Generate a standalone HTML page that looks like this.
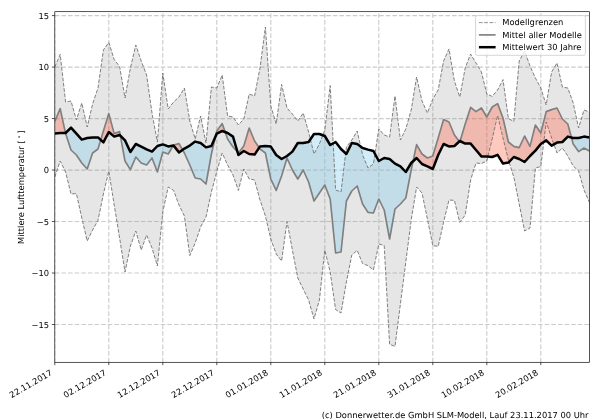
<!DOCTYPE html>
<html lang="de"><head><meta charset="utf-8"><title>Mittlere Lufttemperatur</title>
<style>html,body{margin:0;padding:0;background:#fff;overflow:hidden}svg{display:block;opacity:.999;will-change:transform}text{text-rendering:geometricPrecision}text{font-family:"DejaVu Sans","Liberation Sans",sans-serif;font-size:8.33px;fill:#000}</style></head><body>
<svg width="600" height="420" viewBox="0 0 600 420">
<rect width="600" height="420" fill="#fff"/>
<defs><clipPath id="ax"><rect x="54.8" y="11.7" width="534.8" height="350.6"/></clipPath></defs>
<g clip-path="url(#ax)">
<path d="M54.8 362.3 V11.7 M108.8 362.3 V11.7 M162.8 362.3 V11.7 M216.8 362.3 V11.7 M270.8 362.3 V11.7 M324.8 362.3 V11.7 M378.8 362.3 V11.7 M432.8 362.3 V11.7 M486.8 362.3 V11.7 M540.8 362.3 V11.7 M54.8 15.59 H589.6 M54.8 67.08 H589.6 M54.8 118.57 H589.6 M54.8 170.05 H589.6 M54.8 221.54 H589.6 M54.8 273.02 H589.6 M54.8 324.5 H589.6" fill="none" stroke="#cccccc" stroke-width="1.15" stroke-dasharray="4.62 2"/>
<path d="M54.8 67 L60.2 54.4 L65.6 102 L71 101 L76.4 120 L81.8 103 L87.2 127 L92.6 104 L98 88 L103.4 50 L108.8 42.4 L114.2 59.6 L119.6 66.4 L125 98 L130.4 68 L135.8 45 L141.2 61 L146.6 75 L152 113 L157.4 142 L162.8 73 L168.2 109 L173.6 102 L179 97 L184.4 88 L189.8 121 L195.2 139 L200.6 116 L206 143 L211.4 87 L216.8 88 L222.2 75 L227.6 116 L233 117 L238.4 125 L243.8 119 L249.2 94 L254.6 96 L260 68 L265.4 27 L270.8 106 L276.2 124 L281.6 84.4 L287 108 L292.4 114 L297.8 121 L303.2 113 L308.6 132 L314 154 L319.4 144 L324.8 130 L330.2 85.6 L335.6 190 L341 192 L346.4 147 L351.8 140 L357.2 131 L362.6 155 L368 168 L373.4 164 L378.8 129 L384.2 135 L389.6 137 L395 96 L400.4 140 L405.8 129 L411.2 110 L416.6 77 L422 101 L427.4 113 L432.8 99 L438.2 90 L443.6 61 L449 49 L454.4 81 L459.8 97 L465.2 68 L470.6 54 L476 63 L481.4 72 L486.8 94 L492.2 96.4 L497.6 90 L503 79.6 L508.4 118.5 L513.8 121.5 L519.2 61 L524.6 51 L530 66 L535.4 78 L540.8 88 L546.2 105 L551.6 72 L557 63 L562.4 87 L567.8 88 L573.2 103 L578.6 128 L584 110 L589.4 112 L589.4 202.4 L584 190 L578.6 171 L573.2 166 L567.8 156 L562.4 148 L557 153 L551.6 138 L546.2 122 L540.8 166.5 L535.4 168 L530 228 L524.6 231 L519.2 204 L513.8 177 L508.4 160 L503 138 L497.6 115.5 L492.2 139 L486.8 161 L481.4 163.6 L476 163 L470.6 180 L465.2 215 L459.8 222.4 L454.4 200.4 L449 200 L443.6 222 L438.2 246.4 L432.8 245.6 L427.4 219 L422 193 L416.6 187 L411.2 220 L405.8 262 L400.4 304 L395 346.4 L389.6 344.4 L384.2 245.6 L378.8 244 L373.4 270 L368 265.6 L362.6 263.6 L357.2 250.4 L351.8 255 L346.4 282 L341 313 L335.6 309.6 L330.2 272 L324.8 250 L319.4 300 L314 319 L308.6 300 L303.2 289 L297.8 278 L292.4 250 L287 221.6 L281.6 261 L276.2 254 L270.8 239 L265.4 216 L260 200 L254.6 180 L249.2 179 L243.8 169 L238.4 190.4 L233 175 L227.6 165 L222.2 153 L216.8 171.5 L211.4 192 L206 217 L200.6 227 L195.2 243 L189.8 255.6 L184.4 216 L179 205 L173.6 190.4 L168.2 187 L162.8 212 L157.4 266 L152 248 L146.6 235 L141.2 250 L135.8 231 L130.4 246 L125 272 L119.6 238 L114.2 205 L108.8 171 L103.4 194 L98 220.4 L92.6 230 L87.2 241 L81.8 218 L76.4 193.6 L71 194 L65.6 172 L60.2 161 L54.8 177Z" fill="rgb(128,128,128)" fill-opacity="0.2"/>
<path d="M54.8 133.6 L60.2 133 L65.47 133 L65.6 133.6 L71 150 L76.4 155 L81.8 163 L87.2 169 L92.6 153 L98 149 L100.72 139.92 L103.4 142.4 L108.8 132 L114.2 136.6 L119.6 135 L120.37 135.77 L125 161 L130.4 169.6 L135.8 157 L141.2 163 L146.6 165 L152 158 L157.4 172 L162.8 152 L168.2 154 L173.2 145.66 L173.6 145.6 L179 152.4 L182.6 149.87 L184.4 153 L189.8 165 L195.2 178 L200.6 179 L206 184 L211.4 154 L215.48 136.64 L216.8 133.6 L222.2 131 L225.18 132.1 L227.6 139 L233 147 L237.53 152.03 L238.4 155 L243.8 151 L249.2 154 L254.6 154.6 L259.13 147.72 L260 149 L265.4 153 L270.8 179 L276.2 190.4 L281.6 176 L287 158 L292.4 170 L297.8 179 L303.2 170 L308.6 182 L314 201 L319.4 193 L324.8 185 L330.2 199 L335.6 253 L341 252 L346.4 201 L351.8 191 L357.2 186 L362.6 204 L368 212.4 L373.4 213 L378.8 199 L384.2 210 L389.6 239 L395 209 L400.4 204 L405.8 198 L411.2 170 L413.05 161.28 L416.6 158 L422 164 L427.4 166.4 L432.8 169 L438.2 155 L443.6 144 L449 146.4 L454.4 146 L459.35 141.42 L459.8 142 L460.06 141.13 L465.2 143.6 L470.6 143.6 L476 150 L481.4 156.4 L486.8 156.6 L492.2 157 L497.6 154.8 L503 163.6 L508.4 162.6 L513.8 157 L519.2 159 L524.6 162 L530 156 L535.4 150.6 L540.8 144 L546.2 140.4 L551.6 145.6 L557 142.6 L562.4 142 L567.8 136.6 L571.46 137.55 L573.2 144 L578.6 151.6 L584 148 L589.4 151 L589.4 137.4 L584 136.6 L578.6 138 L573.2 138 L571.46 137.55 L567.8 136.6 L562.4 142 L557 142.6 L551.6 145.6 L546.2 140.4 L540.8 144 L535.4 150.6 L530 156 L524.6 162 L519.2 159 L513.8 157 L508.4 162.6 L503 163.6 L497.6 154.8 L492.2 157 L486.8 156.6 L481.4 156.4 L476 150 L470.6 143.6 L465.2 143.6 L460.06 141.13 L459.8 141 L459.35 141.42 L454.4 146 L449 146.4 L443.6 144 L438.2 155 L432.8 169 L427.4 166.4 L422 164 L416.6 158 L413.05 161.28 L411.2 163 L405.8 172 L400.4 166.4 L395 163.6 L389.6 159 L384.2 158 L378.8 161 L373.4 151 L368 149.6 L362.6 148 L357.2 144 L351.8 143 L346.4 154 L341 149 L335.6 142 L330.2 145 L324.8 136 L319.4 134 L314 134 L308.6 142 L303.2 143 L297.8 143 L292.4 151.6 L287 156 L281.6 159 L276.2 155 L270.8 146.6 L265.4 146 L260 146.4 L259.13 147.72 L254.6 154.6 L249.2 154 L243.8 151 L238.4 155 L237.53 152.03 L233 136.6 L227.6 133 L225.18 132.1 L222.2 131 L216.8 133.6 L215.48 136.64 L211.4 146 L206 147.4 L200.6 143 L195.2 141.6 L189.8 145.6 L184.4 148.6 L182.6 149.87 L179 152.4 L173.6 145.6 L173.2 145.66 L168.2 146.4 L162.8 144.4 L157.4 146 L152 151.6 L146.6 149.4 L141.2 146.6 L135.8 144 L130.4 152 L125 140.4 L120.37 135.77 L119.6 135 L114.2 136.6 L108.8 132 L103.4 142.4 L100.72 139.92 L98 137.4 L92.6 137.4 L87.2 138 L81.8 139.6 L76.4 133.6 L71 127.6 L65.6 133 L65.47 133 L60.2 133 L54.8 133.6Z" fill="rgb(135,206,236)" fill-opacity="0.37"/>
<path d="M54.8 121.5 L60.2 108.6 L65.47 133 L65.6 133 L71 127.6 L76.4 133.6 L81.8 139.6 L87.2 138 L92.6 137.4 L98 137.4 L100.72 139.92 L103.4 131 L108.8 113.6 L114.2 133.6 L119.6 131.6 L120.37 135.77 L125 140.4 L130.4 152 L135.8 144 L141.2 146.6 L146.6 149.4 L152 151.6 L157.4 146 L162.8 144.4 L168.2 146.4 L173.2 145.66 L173.6 145 L179 143.6 L182.6 149.87 L184.4 148.6 L189.8 145.6 L195.2 141.6 L200.6 143 L206 147.4 L211.4 146 L215.48 136.64 L216.8 131 L222.2 123.6 L225.18 132.1 L227.6 133 L233 136.6 L237.53 152.03 L238.4 153 L243.8 146 L249.2 128 L254.6 141 L259.13 147.72 L260 146.4 L265.4 146 L270.8 146.6 L276.2 155 L281.6 159 L287 156 L292.4 151.6 L297.8 143 L303.2 143 L308.6 142 L314 134 L319.4 134 L324.8 136 L330.2 145 L335.6 142 L341 149 L346.4 154 L351.8 143 L357.2 144 L362.6 148 L368 149.6 L373.4 151 L378.8 161 L384.2 158 L389.6 159 L395 163.6 L400.4 166.4 L405.8 172 L411.2 163 L413.05 161.28 L416.6 144.6 L422 154 L427.4 158 L432.8 156 L438.2 138 L443.6 119.6 L449 122 L454.4 135 L459.35 141.42 L459.8 141 L460.06 141.13 L465.2 124 L470.6 107.4 L476 111.6 L481.4 108 L486.8 117 L492.2 107 L497.6 103.6 L503 118 L508.4 142 L513.8 146.4 L519.2 147.6 L524.6 136 L530 146.4 L535.4 125 L540.8 133 L546.2 111.6 L551.6 109.6 L557 108 L562.4 119 L567.8 124 L571.46 137.55 L573.2 138 L578.6 138 L584 136.6 L589.4 137.4 L589.4 137.4 L584 136.6 L578.6 138 L573.2 138 L571.46 137.55 L567.8 136.6 L562.4 142 L557 142.6 L551.6 145.6 L546.2 140.4 L540.8 144 L535.4 150.6 L530 156 L524.6 162 L519.2 159 L513.8 157 L508.4 162.6 L503 163.6 L497.6 154.8 L492.2 157 L486.8 156.6 L481.4 156.4 L476 150 L470.6 143.6 L465.2 143.6 L460.06 141.13 L459.8 141 L459.35 141.42 L454.4 146 L449 146.4 L443.6 144 L438.2 155 L432.8 169 L427.4 166.4 L422 164 L416.6 158 L413.05 161.28 L411.2 163 L405.8 172 L400.4 166.4 L395 163.6 L389.6 159 L384.2 158 L378.8 161 L373.4 151 L368 149.6 L362.6 148 L357.2 144 L351.8 143 L346.4 154 L341 149 L335.6 142 L330.2 145 L324.8 136 L319.4 134 L314 134 L308.6 142 L303.2 143 L297.8 143 L292.4 151.6 L287 156 L281.6 159 L276.2 155 L270.8 146.6 L265.4 146 L260 146.4 L259.13 147.72 L254.6 154.6 L249.2 154 L243.8 151 L238.4 155 L237.53 152.03 L233 136.6 L227.6 133 L225.18 132.1 L222.2 131 L216.8 133.6 L215.48 136.64 L211.4 146 L206 147.4 L200.6 143 L195.2 141.6 L189.8 145.6 L184.4 148.6 L182.6 149.87 L179 152.4 L173.6 145.6 L173.2 145.66 L168.2 146.4 L162.8 144.4 L157.4 146 L152 151.6 L146.6 149.4 L141.2 146.6 L135.8 144 L130.4 152 L125 140.4 L120.37 135.77 L119.6 135 L114.2 136.6 L108.8 132 L103.4 142.4 L100.72 139.92 L98 137.4 L92.6 137.4 L87.2 138 L81.8 139.6 L76.4 133.6 L71 127.6 L65.6 133 L65.47 133 L60.2 133 L54.8 133.6Z" fill="rgb(255,99,71)" fill-opacity="0.35"/>
<path d="M54.8 67 L60.2 54.4 L65.6 102 L71 101 L76.4 120 L81.8 103 L87.2 127 L92.6 104 L98 88 L103.4 50 L108.8 42.4 L114.2 59.6 L119.6 66.4 L125 98 L130.4 68 L135.8 45 L141.2 61 L146.6 75 L152 113 L157.4 142 L162.8 73 L168.2 109 L173.6 102 L179 97 L184.4 88 L189.8 121 L195.2 139 L200.6 116 L206 143 L211.4 87 L216.8 88 L222.2 75 L227.6 116 L233 117 L238.4 125 L243.8 119 L249.2 94 L254.6 96 L260 68 L265.4 27 L270.8 106 L276.2 124 L281.6 84.4 L287 108 L292.4 114 L297.8 121 L303.2 113 L308.6 132 L314 154 L319.4 144 L324.8 130 L330.2 85.6 L335.6 190 L341 192 L346.4 147 L351.8 140 L357.2 131 L362.6 155 L368 168 L373.4 164 L378.8 129 L384.2 135 L389.6 137 L395 96 L400.4 140 L405.8 129 L411.2 110 L416.6 77 L422 101 L427.4 113 L432.8 99 L438.2 90 L443.6 61 L449 49 L454.4 81 L459.8 97 L465.2 68 L470.6 54 L476 63 L481.4 72 L486.8 94 L492.2 96.4 L497.6 90 L503 79.6 L508.4 118.5 L513.8 121.5 L519.2 61 L524.6 51 L530 66 L535.4 78 L540.8 88 L546.2 105 L551.6 72 L557 63 L562.4 87 L567.8 88 L573.2 103 L578.6 128 L584 110 L589.4 112" fill="none" stroke="#757575" stroke-width="0.92" stroke-dasharray="3.7 1.6"/>
<path d="M54.8 177 L60.2 161 L65.6 172 L71 194 L76.4 193.6 L81.8 218 L87.2 241 L92.6 230 L98 220.4 L103.4 194 L108.8 171 L114.2 205 L119.6 238 L125 272 L130.4 246 L135.8 231 L141.2 250 L146.6 235 L152 248 L157.4 266 L162.8 212 L168.2 187 L173.6 190.4 L179 205 L184.4 216 L189.8 255.6 L195.2 243 L200.6 227 L206 217 L211.4 192 L216.8 171.5 L222.2 153 L227.6 165 L233 175 L238.4 190.4 L243.8 169 L249.2 179 L254.6 180 L260 200 L265.4 216 L270.8 239 L276.2 254 L281.6 261 L287 221.6 L292.4 250 L297.8 278 L303.2 289 L308.6 300 L314 319 L319.4 300 L324.8 250 L330.2 272 L335.6 309.6 L341 313 L346.4 282 L351.8 255 L357.2 250.4 L362.6 263.6 L368 265.6 L373.4 270 L378.8 244 L384.2 245.6 L389.6 344.4 L395 346.4 L400.4 304 L405.8 262 L411.2 220 L416.6 187 L422 193 L427.4 219 L432.8 245.6 L438.2 246.4 L443.6 222 L449 200 L454.4 200.4 L459.8 222.4 L465.2 215 L470.6 180 L476 163 L481.4 163.6 L486.8 161 L492.2 139 L497.6 115.5 L503 138 L508.4 160 L513.8 177 L519.2 204 L524.6 231 L530 228 L535.4 168 L540.8 166.5 L546.2 122 L551.6 138 L557 153 L562.4 148 L567.8 156 L573.2 166 L578.6 171 L584 190 L589.4 202.4" fill="none" stroke="#757575" stroke-width="0.92" stroke-dasharray="3.7 1.6"/>
<path d="M54.8 121.5 L60.2 108.6 L65.6 133.6 L71 150 L76.4 155 L81.8 163 L87.2 169 L92.6 153 L98 149 L103.4 131 L108.8 113.6 L114.2 133.6 L119.6 131.6 L125 161 L130.4 169.6 L135.8 157 L141.2 163 L146.6 165 L152 158 L157.4 172 L162.8 152 L168.2 154 L173.6 145 L179 143.6 L184.4 153 L189.8 165 L195.2 178 L200.6 179 L206 184 L211.4 154 L216.8 131 L222.2 123.6 L227.6 139 L233 147 L238.4 153 L243.8 146 L249.2 128 L254.6 141 L260 149 L265.4 153 L270.8 179 L276.2 190.4 L281.6 176 L287 158 L292.4 170 L297.8 179 L303.2 170 L308.6 182 L314 201 L319.4 193 L324.8 185 L330.2 199 L335.6 253 L341 252 L346.4 201 L351.8 191 L357.2 186 L362.6 204 L368 212.4 L373.4 213 L378.8 199 L384.2 210 L389.6 239 L395 209 L400.4 204 L405.8 198 L411.2 170 L416.6 144.6 L422 154 L427.4 158 L432.8 156 L438.2 138 L443.6 119.6 L449 122 L454.4 135 L459.8 142 L465.2 124 L470.6 107.4 L476 111.6 L481.4 108 L486.8 117 L492.2 107 L497.6 103.6 L503 118 L508.4 142 L513.8 146.4 L519.2 147.6 L524.6 136 L530 146.4 L535.4 125 L540.8 133 L546.2 111.6 L551.6 109.6 L557 108 L562.4 119 L567.8 124 L573.2 144 L578.6 151.6 L584 148 L589.4 151" fill="none" stroke="#808080" stroke-width="1.67" stroke-linejoin="round"/>
<path d="M54.8 133.6 L60.2 133 L65.6 133 L71 127.6 L76.4 133.6 L81.8 139.6 L87.2 138 L92.6 137.4 L98 137.4 L103.4 142.4 L108.8 132 L114.2 136.6 L119.6 135 L125 140.4 L130.4 152 L135.8 144 L141.2 146.6 L146.6 149.4 L152 151.6 L157.4 146 L162.8 144.4 L168.2 146.4 L173.6 145.6 L179 152.4 L184.4 148.6 L189.8 145.6 L195.2 141.6 L200.6 143 L206 147.4 L211.4 146 L216.8 133.6 L222.2 131 L227.6 133 L233 136.6 L238.4 155 L243.8 151 L249.2 154 L254.6 154.6 L260 146.4 L265.4 146 L270.8 146.6 L276.2 155 L281.6 159 L287 156 L292.4 151.6 L297.8 143 L303.2 143 L308.6 142 L314 134 L319.4 134 L324.8 136 L330.2 145 L335.6 142 L341 149 L346.4 154 L351.8 143 L357.2 144 L362.6 148 L368 149.6 L373.4 151 L378.8 161 L384.2 158 L389.6 159 L395 163.6 L400.4 166.4 L405.8 172 L411.2 163 L416.6 158 L422 164 L427.4 166.4 L432.8 169 L438.2 155 L443.6 144 L449 146.4 L454.4 146 L459.8 141 L465.2 143.6 L470.6 143.6 L476 150 L481.4 156.4 L486.8 156.6 L492.2 157 L497.6 154.8 L503 163.6 L508.4 162.6 L513.8 157 L519.2 159 L524.6 162 L530 156 L535.4 150.6 L540.8 144 L546.2 140.4 L551.6 145.6 L557 142.6 L562.4 142 L567.8 136.6 L573.2 138 L578.6 138 L584 136.6 L589.4 137.4" fill="none" stroke="#000" stroke-width="2.5" stroke-linejoin="round"/>
</g>
<rect x="54.8" y="11.7" width="534.8" height="350.6" fill="none" stroke="#000" stroke-width="0.67"/>
<path d="M54.8 362.3 v2.9 M108.8 362.3 v2.9 M162.8 362.3 v2.9 M216.8 362.3 v2.9 M270.8 362.3 v2.9 M324.8 362.3 v2.9 M378.8 362.3 v2.9 M432.8 362.3 v2.9 M486.8 362.3 v2.9 M540.8 362.3 v2.9 M54.8 15.59 h-2.9 M54.8 67.08 h-2.9 M54.8 118.57 h-2.9 M54.8 170.05 h-2.9 M54.8 221.54 h-2.9 M54.8 273.02 h-2.9 M54.8 324.5 h-2.9" fill="none" stroke="#000" stroke-width="0.67"/>
<text x="49.1" y="18.99" text-anchor="end">15</text>
<text x="49.1" y="70.48" text-anchor="end">10</text>
<text x="49.1" y="121.97" text-anchor="end">5</text>
<text x="49.1" y="173.45" text-anchor="end">0</text>
<text x="49.1" y="224.94" text-anchor="end">−5</text>
<text x="49.1" y="276.42" text-anchor="end">−10</text>
<text x="49.1" y="327.9" text-anchor="end">−15</text>
<text transform="translate(52.9 374.4) rotate(-30)" text-anchor="end">22.11.2017</text>
<text transform="translate(106.9 374.4) rotate(-30)" text-anchor="end">02.12.2017</text>
<text transform="translate(160.9 374.4) rotate(-30)" text-anchor="end">12.12.2017</text>
<text transform="translate(214.9 374.4) rotate(-30)" text-anchor="end">22.12.2017</text>
<text transform="translate(268.9 374.4) rotate(-30)" text-anchor="end">01.01.2018</text>
<text transform="translate(322.9 374.4) rotate(-30)" text-anchor="end">11.01.2018</text>
<text transform="translate(376.9 374.4) rotate(-30)" text-anchor="end">21.01.2018</text>
<text transform="translate(430.9 374.4) rotate(-30)" text-anchor="end">31.01.2018</text>
<text transform="translate(484.9 374.4) rotate(-30)" text-anchor="end">10.02.2018</text>
<text transform="translate(538.9 374.4) rotate(-30)" text-anchor="end">20.02.2018</text>
<text transform="translate(24.4 187.2) rotate(-90)" text-anchor="middle">Mittlere Lufttemperatur [<tspan font-size="5.8px" dx="1.5" dy="-3">∘</tspan><tspan dx="1.5" dy="3">]</tspan></text>
<rect x="475.6" y="15.6" width="109.8" height="39.7" rx="1.7" fill="#fff" fill-opacity="0.8" stroke="#ccc" stroke-width="0.83"/>
<path d="M478.9 22.6H495.6" stroke="#808080" stroke-width="0.85" stroke-dasharray="3.7 1.6"/>
<path d="M478.9 34.9H495.6" stroke="#808080" stroke-width="1.67"/>
<path d="M478.9 47.2H495.6" stroke="#000" stroke-width="2.5"/>
<text x="502.3" y="24.9">Modellgrenzen</text>
<text x="502.3" y="37.8">Mittel aller Modelle</text>
<text x="502.3" y="50.1">Mittelwert 30 Jahre</text>
<text x="588.5" y="417.8" text-anchor="end">(c) Donnerwetter.de GmbH SLM-Modell, Lauf 23.11.2017 00 Uhr</text>
</svg></body></html>
